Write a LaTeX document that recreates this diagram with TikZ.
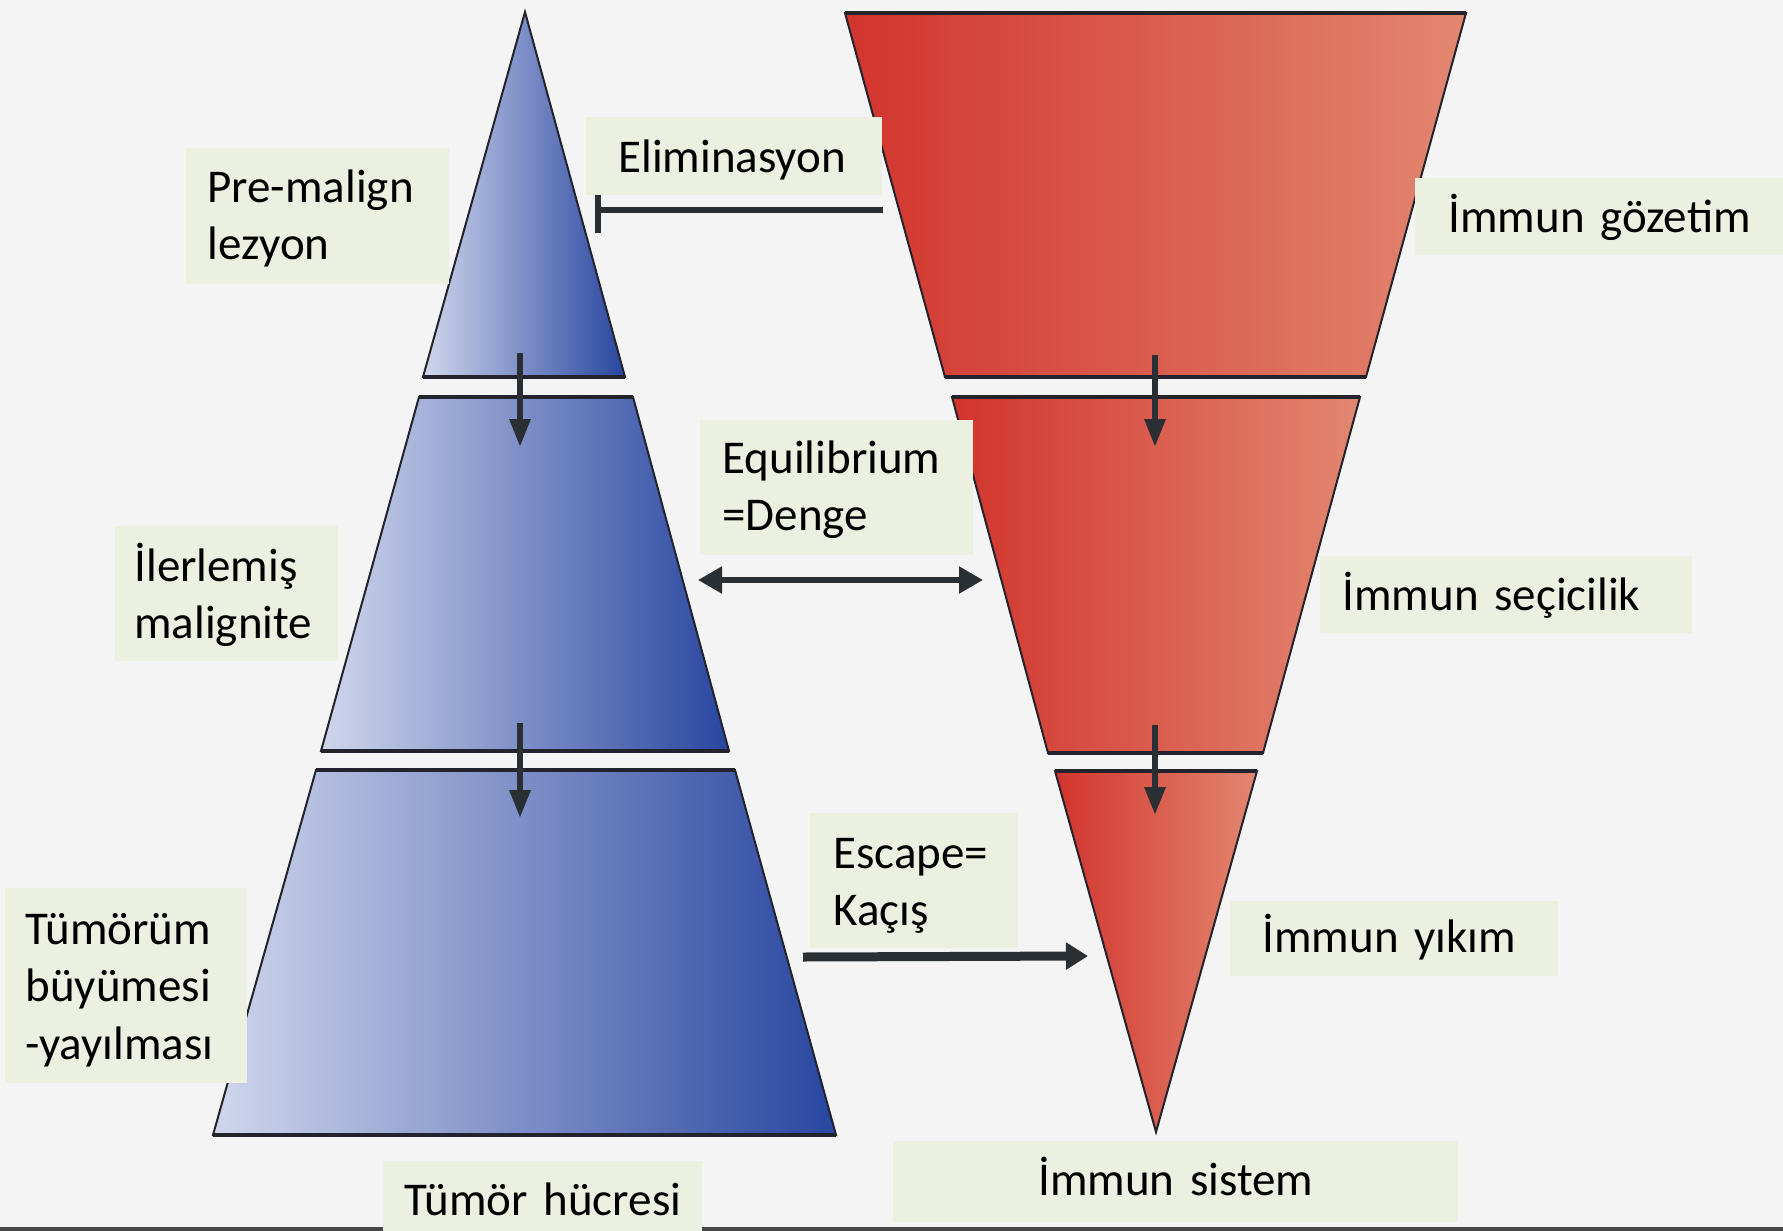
\documentclass[tikz,border=0pt]{standalone}
\usepackage{fontspec}
\setmainfont{Carlito}
\usetikzlibrary{arrows.meta}
\definecolor{bg}{RGB}{244,244,244}
\definecolor{boxc}{RGB}{236,240,225}
\definecolor{bluel}{RGB}{208,214,236}
\definecolor{blued}{RGB}{40,70,160}
\definecolor{redl}{RGB}{210,52,45}
\definecolor{redr}{RGB}{226,135,112}
\definecolor{arr}{RGB}{42,47,52}
\definecolor{edgec}{RGB}{35,35,45}
\newcommand{\lblfont}{\fontsize{23.5}{28.75}\selectfont}
\hyphenpenalty=10000
\exhyphenpenalty=10000
\begin{document}
\begin{tikzpicture}[x=0.5pt,y=-0.5pt,
  bluepart/.style={left color=bluel, right color=blued, draw=edgec, line width=1pt},
  redpart/.style={left color=redl, right color=redr, draw=edgec, line width=1pt},
  rim/.style={draw=edgec, line width=2pt},
  flow/.style={draw=arr, line width=3pt, -{Triangle[length=14pt,width=10pt]}},
  lbl/.style={fill=boxc, inner ysep=0pt, anchor=north west, align=left, text=black, font=\lblfont},
  lblc/.style={lbl, align=center, inner xsep=0pt},
]
\useasboundingbox (0,0) rectangle (1783,1231);
\clip (0,0) rectangle (1783,1231);
\fill[bg] (0,0) rectangle (1783,1231);
\fill[black!72] (0,1227) rectangle (1783,1231);

% tumour pyramid (blue)
\path[bluepart] (525,12) -- (625,377) -- (423,377) -- cycle;
\path[bluepart] (419,397) -- (633,397) -- (729,751) -- (321,751) -- cycle;
\path[bluepart] (316,770) -- (735,770) -- (836,1135) -- (213,1135) -- cycle;
\draw[rim] (423,377) -- (625,377);
\draw[rim] (419,397) -- (633,397);
\draw[rim] (321,751) -- (729,751);
\draw[rim] (316,770) -- (735,770);
\draw[rim] (213,1135) -- (836,1135);

% immune funnel (red)
\path[redpart] (845,13) -- (1466,13) -- (1366,377) -- (945,377) -- cycle;
\path[redpart] (952,397) -- (1360,397) -- (1263,753) -- (1048,753) -- cycle;
\path[redpart] (1055,771) -- (1257,771) -- (1156,1132) -- cycle;
\draw[rim] (845,13) -- (1466,13);
\draw[rim] (945,377) -- (1366,377);
\draw[rim] (952,397) -- (1360,397);
\draw[rim] (1048,753) -- (1263,753);
\draw[rim] (1055,771) -- (1257,771);

% arrow end points
\coordinate (bd1s) at (520,353);  \coordinate (bd1e) at (520,447);
\coordinate (bd2s) at (520,723);  \coordinate (bd2e) at (520,818);
\coordinate (rd1s) at (1155,355); \coordinate (rd1e) at (1155,447);
\coordinate (rd2s) at (1155,725); \coordinate (rd2e) at (1155,815);
\coordinate (elimS) at (883,210); \coordinate (elimE) at (595,210);
\coordinate (eqL) at (698,580);   \coordinate (eqR) at (983,580);
\coordinate (escS) at (803,957);  \coordinate (escE) at (1088,956);

\draw[flow] (bd1s) -- (bd1e);
\draw[flow] (bd2s) -- (bd2e);
\draw[flow] (rd1s) -- (rd1e);
\draw[flow] (rd2s) -- (rd2e);
\draw[draw=arr, line width=3pt, -{Bar[width=23pt]}] (elimS) -- (elimE);
\draw[draw=arr, line width=2.6pt, {Triangle[length=12pt,width=13pt]}-{Triangle[length=12pt,width=13pt]}] (eqL) -- (eqR);
\draw[draw=arr, line width=4.5pt, -{Triangle[length=11pt,width=13pt]}] (escS) -- (escE);

% labels
\node[lbl, inner xsep=10.5pt, text width=110.5pt, text height=27pt, text depth=41pt] (premal) at (186,148) {Pre-malign\\lezyon};
\node[lbl, inner xsep=16pt, text width=116pt, text height=27.5pt, text depth=11.5pt] (elim) at (586,117) {Eliminasyon};
\node[lbl, inner xsep=16.5pt, text width=159.5pt, text height=27pt, text depth=11.5pt] (gozetim) at (1415,178) {İmmun gözetim};
\node[lbl, inner xsep=11pt, text width=114.5pt, text height=26.5pt, text depth=41pt] (equil) at (700,420) {Equilibrium\\=Denge};
\node[lbl, inner xsep=9.5pt, text width=92.5pt, text height=27.5pt, text depth=40pt] (ilerle) at (115,526) {İlerlemiş\\malignite};
\node[lbl, inner xsep=11pt, text width=164pt, text height=27pt, text depth=11.5pt] (secici) at (1320,556) {İmmun seçicilik};
\node[lbl, inner xsep=11.5pt, text width=81pt, text height=27.5pt, text depth=40pt] (escape) at (810,813) {Escape=\\Kaçış};
\node[lbl, inner xsep=16pt, text width=132pt, text height=25.5pt, text depth=12pt] (yikim) at (1230,901) {İmmun yıkım};
\node[lbl, inner xsep=10pt, text width=101pt, text height=28pt, text depth=69.5pt] (buyume) at (5,888) {Tümörüm\\büyümesi\\-yayılması};
\node[lblc, text width=159.5pt, text height=27pt, text depth=17.5pt] (tumor) at (383,1161) {Tümör hücresi};
\node[lblc, text width=282.5pt, text height=27pt, text depth=13.5pt] (sistem) at (893,1141) {İmmun sistem};
\end{tikzpicture}
\end{document}
